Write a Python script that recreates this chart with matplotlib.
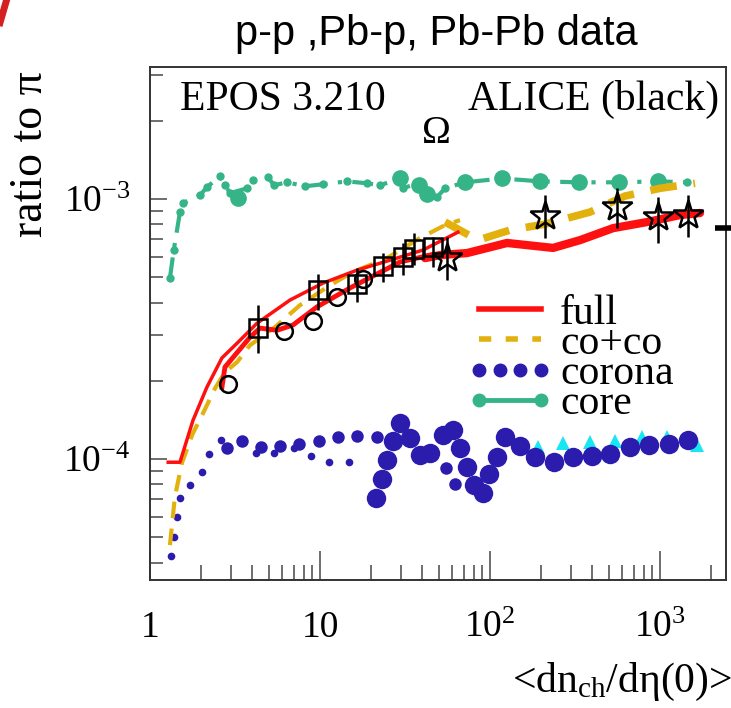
import matplotlib
matplotlib.use("Agg")
import matplotlib.pyplot as plt
from matplotlib.lines import Line2D
from matplotlib.legend_handler import HandlerLine2D

plt.rcParams['font.family'] = ['Liberation Serif', 'DejaVu Serif']
plt.rcParams['mathtext.fontset'] = 'custom'
plt.rcParams['mathtext.rm'] = 'Liberation Serif'
plt.rcParams['mathtext.it'] = 'Liberation Serif:italic'

# ---- EPOS curves ----
# core (green)
core_x = [1.31, 1.38, 1.50, 1.56, 1.97, 2.16, 2.58, 2.76, 2.96, 3.72, 4.03, 4.94, 5.36,
          6.40, 8.16, 10.4, 14.4, 18.9, 22.5, 29.6, 30.8, 38.7, 42.6, 48.8, 54.4, 71.3,
          118, 197, 334, 574, 973, 1442]
core_y = [4.97e-4, 6.37e-4, 8.91e-4, 9.65e-4, 1.035e-3, 1.11e-3, 1.225e-3, 1.13e-3, 1.054e-3,
          1.10e-3, 1.18e-3, 1.215e-3, 1.13e-3, 1.16e-3, 1.12e-3, 1.14e-3, 1.17e-3, 1.15e-3,
          1.13e-3, 1.20e-3, 1.10e-3, 1.16e-3, 1.054e-3, 1.018e-3, 1.10e-3, 1.16e-3,
          1.20e-3, 1.17e-3, 1.16e-3, 1.16e-3, 1.17e-3, 1.16e-3]
core_big_x = [3.29, 29.6, 38.0, 42.6, 71.3, 118, 197, 334, 574, 973]
core_big_y = [1.009e-3, 1.20e-3, 1.13e-3, 1.05e-3, 1.16e-3, 1.20e-3, 1.17e-3, 1.16e-3, 1.16e-3, 1.17e-3]

# full (red)
full_pp_x = [1.28, 1.50, 1.79, 2.16, 2.65, 3.25, 4.26, 6.66, 10.4, 16.5, 25.8, 40.4, 64.8]
full_pp_y = [9.73e-5, 9.73e-5, 1.41e-4, 1.89e-4, 2.45e-4, 2.79e-4, 3.33e-4, 4.09e-4,
             4.75e-4, 5.33e-4, 5.82e-4, 6.37e-4, 7.46e-4]
full_ppb_x = [2.65, 2.76, 3.87, 4.44, 5.59, 6.94, 9.6, 15.0, 29.6, 44.4]
full_ppb_y = [1.89e-4, 2.26e-4, 2.94e-4, 3.19e-4, 3.13e-4, 3.28e-4, 3.85e-4, 4.55e-4, 5.73e-4, 6.09e-4]
full_pbpb_x = [41.5, 50.8, 73.2, 126, 235, 338, 529, 839, 1312, 1719]
full_pbpb_y = [5.93e-4, 6.09e-4, 6.2e-4, 6.78e-4, 6.49e-4, 6.95e-4, 7.73e-4, 8.16e-4, 8.68e-4, 8.84e-4]

# co+co (yellow)
coco_pp_x = [1.31, 1.40, 1.54, 1.77, 2.05, 2.41, 2.76, 3.25, 3.87, 5.44, 7.63, 11.5, 15.6,
             24.8, 38.7, 54.4, 66.6]
coco_pp_y = [4.67e-5, 7.14e-5, 9.66e-5, 1.24e-4, 1.50e-4, 1.87e-4, 2.16e-4, 2.36e-4, 2.74e-4,
             3.22e-4, 3.91e-4, 4.67e-4, 5.24e-4, 5.93e-4, 7.08e-4, 7.94e-4, 8.30e-4]
coco_pbpb_x = [54.4, 85, 131, 211, 387, 622, 1000, 1607]
coco_pbpb_y = [8.16e-4, 6.95e-4, 7.6e-4, 8.01e-4, 8.91e-4, 1.027e-3, 1.10e-3, 1.15e-3]

# corona (blue), three point sizes
corona_s_x = [1.33, 1.38, 1.44, 1.50, 1.72, 2.02, 2.22, 2.61, 4.20, 5.36, 7.03, 8.85, 11.3, 14.8]
corona_s_y = [4.24e-5, 5.01e-5, 5.98e-5, 7.08e-5, 7.94e-5, 8.91e-5, 1.045e-4, 1.18e-4,
              1.054e-4, 1.054e-4, 1.10e-4, 1.027e-4, 9.73e-5, 9.73e-5]
corona_m_x = [2.84, 3.48, 4.50, 5.82, 7.52, 9.86, 12.8, 16.5, 21.6, 55.1, 62.3]
corona_m_y = [1.10e-4, 1.17e-4, 1.11e-4, 1.12e-4, 1.14e-4, 1.17e-4, 1.22e-4, 1.23e-4,
              1.22e-4, 9.23e-5, 8.01e-5]
corona_l_x = [21.4, 23.2, 24.8, 26.9, 29.6, 33.8, 38.7, 44.4, 52.9, 60.6, 66.6, 73.2, 80.5,
              90.9, 98.6, 110, 122, 150, 184, 238, 308, 398, 508, 666, 861, 1130, 1462]
corona_l_y = [7.08e-5, 8.37e-5, 9.91e-5, 1.17e-4, 1.375e-4, 1.205e-4, 1.036e-4, 1.054e-4,
              1.236e-4, 1.30e-4, 1.10e-4, 9.31e-5, 7.94e-5, 7.4e-5, 8.75e-5, 1.019e-4, 1.22e-4,
              1.12e-4, 1.019e-4, 9.73e-5, 1.019e-4, 1.027e-4, 1.045e-4, 1.11e-4, 1.132e-4,
              1.14e-4, 1.183e-4]
tri_x = [192, 269, 388, 544, 784, 1100, 1651]
tri_y = [1.11e-4, 1.154e-4, 1.16e-4, 1.17e-4, 1.22e-4, 1.22e-4, 1.132e-4]

# ---- ALICE data (black) ----
circ_x = [2.88, 6.14, 9.1, 12.6, 17.9]
circ_y = [1.94e-4, 3.1e-4, 3.40e-4, 4.2e-4, 4.92e-4]
sq_x = [4.32, 9.73, 16.5, 23.5, 30.8, 35.7, 46.2]
sq_y = [3.19e-4, 4.47e-4, 4.71e-4, 5.52e-4, 5.98e-4, 6.42e-4, 6.54e-4]
sq_lo = [0.63e-4, 0.73e-4, 0.69e-4, 0.72e-4, 0.87e-4, 0.85e-4, 1.07e-4]
sq_hi = [0.72e-4, 0.68e-4, 0.72e-4, 0.68e-4, 0.80e-4, 0.98e-4, 0.61e-4]
star_x = [55.9, 211, 558, 973, 1462]
star_y = [5.93e-4, 8.6e-4, 9.32e-4, 8.53e-4, 8.68e-4]
star_lo = [1.05e-4, 1.52e-4, 1.59e-4, 1.75e-4, 1.53e-4]
star_hi = [1.22e-4, 1.76e-4, 1.70e-4, 1.67e-4, 1.68e-4]
edge_x = [2400]
edge_y = [7.73e-4]

red = '#ff1010'
yellow = '#e3b10e'
blue = '#2c1cae'
green = '#35b487'
cyan = '#18e6f2'

fig = plt.figure(figsize=(7.31, 7.08), dpi=100)
ax = fig.add_axes([150 / 731, 128 / 708, 576 / 731, 513 / 708])
ax.set_xscale('log')
ax.set_yscale('log')
ax.set_xlim(1, 2445)
ax.set_ylim(3.43e-5, 3.22e-3)

# core
ax.plot(core_x, core_y, color=green, lw=3, ls=(0, (5, 2.5, 1, 2.5)), marker='o', ms=5, zorder=2)
ax.plot(core_big_x, core_big_y, 'o', color=green, ms=11, zorder=2)

# corona
ax.plot(tri_x, tri_y, '^', color=cyan, ms=10, mew=0, zorder=2)
ax.plot(corona_s_x, corona_s_y, 'o', color=blue, ms=5.5, mew=0, zorder=3)
ax.plot(corona_m_x, corona_m_y, 'o', color=blue, ms=9, mew=0, zorder=3)
ax.plot(corona_l_x, corona_l_y, 'o', color=blue, ms=14, mew=0, zorder=3)

# co+co
ax.plot(coco_pp_x, coco_pp_y, color=yellow, lw=3, ls=(0, (4, 2.5)), zorder=3)
ax.plot(coco_pbpb_x, coco_pbpb_y, color=yellow, lw=5.5, ls=(0, (3.5, 2.2)), zorder=3)

# full
ax.plot(full_pp_x, full_pp_y, color=red, lw=2.5, zorder=4)
ax.plot(full_ppb_x, full_ppb_y, color=red, lw=3.5, zorder=4)
ax.plot(full_pbpb_x, full_pbpb_y, color=red, lw=6, solid_capstyle='round', zorder=4)

# data
ax.plot(circ_x, circ_y, 'o', mfc='none', mec='k', ms=12, mew=1.8, zorder=6)
ax.errorbar(sq_x, sq_y, yerr=[sq_lo, sq_hi], fmt='s', mfc='none', mec='k', ms=13, mew=1.8,
            ecolor='k', elinewidth=1.8, capsize=0, zorder=6)
ax.errorbar(star_x, star_y, yerr=[star_lo, star_hi], fmt='*', mfc='none', mec='k', ms=22,
            mew=1.8, ecolor='k', elinewidth=1.8, capsize=0, zorder=6)
ax.plot(edge_x, edge_y, marker='_', color='k', ms=15, mew=4, clip_on=False, ls='none', zorder=7)

# axes style
for s in ax.spines.values():
    s.set_color('#333333')
    s.set_linewidth(1.4)
ax.tick_params(axis='x', which='major', direction='in', length=21, width=1.2, color='#555555',
               labelsize=27, pad=22, top=False)
ax.tick_params(axis='x', which='minor', direction='in', length=11, width=1.2, color='#555555', top=False)
ax.tick_params(axis='y', which='major', direction='in', length=12, width=1.2, color='#555555',
               labelsize=27, pad=14, right=False)
ax.tick_params(axis='y', which='minor', direction='in', length=9, width=1.2, color='#555555', right=False)
ax.set_xticks([1, 10, 100, 1000])
ax.set_xticklabels(['1', '10', r'$10^{2}$', r'$10^{3}$'])
ax.set_yticks([1e-4, 1e-3])
ax.set_yticklabels([r'$10^{-4}$', r'$10^{-3}$'])

ax.set_ylabel('ratio to π', fontsize=33)
ax.yaxis.set_label_coords(-0.17, 0.83)
ax.set_xlabel(r'<dn$_{\rm ch}$/dη(0)>', fontsize=30, ha='right')
ax.xaxis.set_label_coords(1.01, -0.158)

ax.text(0.052, 0.936, 'EPOS 3.210', transform=ax.transAxes, fontsize=30, va='center', ha='left')
ax.text(0.988, 0.936, 'ALICE (black)', transform=ax.transAxes, fontsize=30, va='center', ha='right')
ax.text(0.498, 0.871, 'Ω', transform=ax.transAxes, fontsize=28, va='center', ha='center')

fig.text(0.597, 0.952, 'p-p ,Pb-p, Pb-Pb data', fontsize=30, ha='center', va='center',
         family='Liberation Sans')
fig.add_artist(Line2D([0.0, 0.009], [0.968, 1.0], color='#d42020', lw=5))

# legend
h_full = Line2D([], [], color=red, lw=4)
h_coco = Line2D([], [], color=yellow, lw=4, ls=(0, (2.2, 2.6)))
h_corona = Line2D([], [], color=blue, ls='none', marker='o', ms=9)
h_core = Line2D([], [], color=green, lw=3.5, ls='-', marker='o', ms=9)
leg = ax.legend([h_full, h_coco, h_corona, h_core], ['full', 'co+co', 'corona', 'core'],
                loc='upper left', bbox_to_anchor=(0.549, 0.557), frameon=False, fontsize=30,
                handlelength=2.1, handletextpad=0.15, labelspacing=-0.2, borderpad=0,
                borderaxespad=0, numpoints=4,
                handler_map={h_core: HandlerLine2D(numpoints=2)})

fig.savefig('out.png', dpi=100)
